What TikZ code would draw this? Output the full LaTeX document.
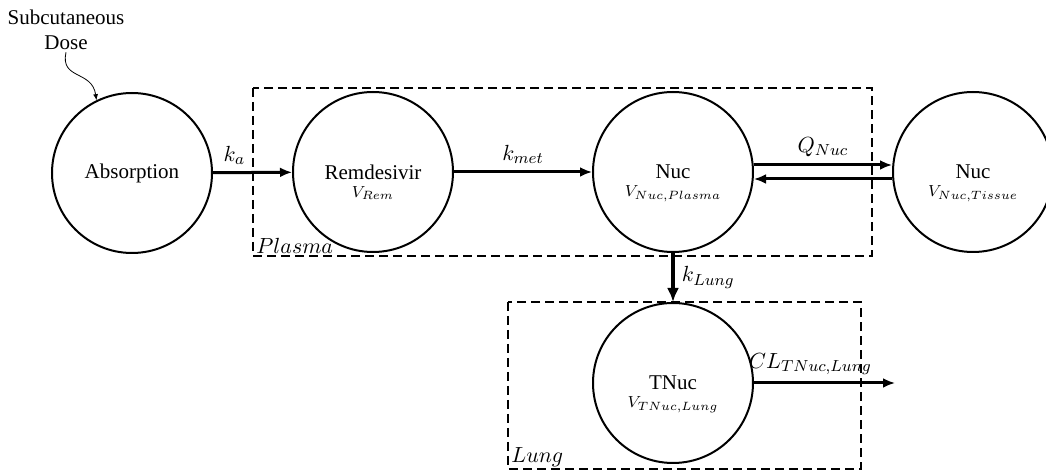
\documentclass[tikz,border=0pt]{standalone}
\usepackage{amsmath}
\usepackage{fontspec}
\setmainfont{Liberation Serif}
\usetikzlibrary{arrows, arrows.meta}
\usetikzlibrary{calc}
\usetikzlibrary{positioning}

\tikzset{
  comp/.style={circle, draw, line width=1pt, minimum size=80pt, inner sep=0pt, font=\fontsize{10.5}{12}\selectfont},
  vol/.style={font=\fontsize{8}{9}\selectfont, inner sep=0pt},
  rate/.style={font=\fontsize{11}{12}\selectfont},
  flow/.style={line width=1.5pt, -{Latex[length=6pt, width=5pt]}},
  region/.style={line width=1.1pt, dash pattern=on 4.5pt off 2.5pt},
  rname/.style={anchor=south west, inner sep=1pt, font=\fontsize{10.5}{12}\selectfont}
}

\begin{document}
\begin{tikzpicture}[x=0.5pt, y=-0.5pt]
    \useasboundingbox (0,0) rectangle (1046,475);

    \node[comp] (abs) at (132,173) {Absorption};
    \node[comp] (rem) at (373,172) {Remdesivir};
    \node[comp] (nuc) at (673,172) {Nuc};
    \node[comp] (tis) at (973,172) {Nuc};
    \node[comp] (tnuc) at (673,383) {TNuc};

    \node[vol] (vrem) at ($(rem.center)+(0,21)$) {$V_{Rem}$};
    \node[vol] (vnuc) at ($(nuc.center)+(0,22)$) {$V_{Nuc,Plasma}$};
    \node[vol] (vtis) at ($(tis.center)+(0,22)$) {$V_{Nuc,Tissue}$};
    \node[vol] (vtnuc) at ($(tnuc.center)+(0,22)$) {$V_{TNuc,Lung}$};

    \node[align=center, font=\fontsize{10.5}{12.5}\selectfont, inner sep=1pt] (dose) at (66,30) {Subcutaneous\\Dose};
    \draw[line width=0.4pt, -{Latex[length=3pt, width=2.5pt]}] (dose.south) .. controls (60,80) and (92,70) .. (abs.116);

    \draw[region] (253,88) rectangle (872,256);
    \node[rname] (plasma) at (254,256) {$Plasma$};
    \draw[region] (508,302) rectangle (861,469);
    \node[rname] (lung) at (509,469) {$Lung$};

    \draw[flow] (abs) -- node[rate, pos=0.27, above] {$k_a$} (rem);
    \draw[flow] (rem) -- node[rate, above] {$k_{met}$} (nuc);
    \draw[flow] ([yshift=3.5pt]nuc.east) -- node[rate, above] {$Q_{Nuc}$} ([yshift=3.5pt]tis.west);
    \draw[flow] ([yshift=-3.5pt]tis.west) -- ([yshift=-3.5pt]nuc.east);
    \draw[line width=2.2pt, -{Latex[length=7pt, width=6pt]}] (nuc) -- node[rate, right] {$k_{Lung}$} (tnuc);
    \coordinate (out) at (895,383);
    \draw[flow] (tnuc) -- node[rate, pos=0.4, above] {$CL_{TNuc,Lung}$} (out);
\end{tikzpicture}
\end{document}
